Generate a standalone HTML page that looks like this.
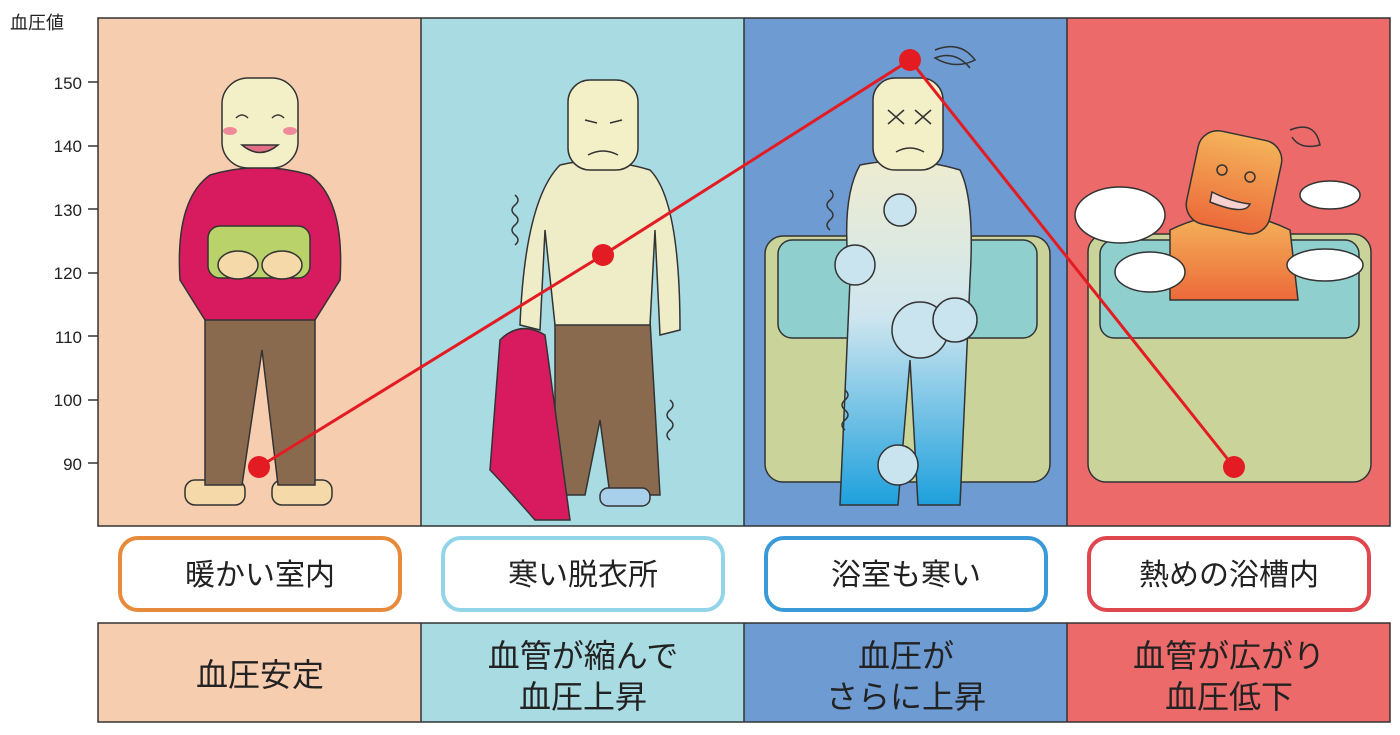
<!DOCTYPE html>
<html><head><meta charset="utf-8"><style>
body{margin:0;background:#fff;width:1400px;height:730px;overflow:hidden;font-family:"Liberation Sans","Noto Sans CJK JP",sans-serif;}
</style></head><body>
<svg width="1400" height="730" xmlns="http://www.w3.org/2000/svg" font-family="Liberation Sans, Noto Sans CJK JP, sans-serif">
<rect x="98" y="18" width="323" height="508" fill="#f7cdb0"/>
<rect x="421" y="18" width="323" height="508" fill="#a9dbe3"/>
<rect x="744" y="18" width="323" height="508" fill="#6d9bd2"/>
<rect x="1067" y="18" width="323" height="508" fill="#ec6a6a"/>
<g stroke="#333" stroke-width="1.5" fill="none">
<rect x="98" y="18" width="1292" height="508"/>
<line x1="421" y1="18" x2="421" y2="526"/><line x1="744" y1="18" x2="744" y2="526"/><line x1="1067" y1="18" x2="1067" y2="526"/>
</g>
<g font-size="17" fill="#222" text-anchor="end">
<text x="82" y="89">150</text><text x="82" y="152">140</text><text x="82" y="216">130</text><text x="82" y="279">120</text><text x="82" y="343">110</text><text x="82" y="406">100</text><text x="82" y="470">90</text>
</g>
<text x="10" y="29" font-size="18" fill="#222">血圧値</text>
<g stroke="#333" stroke-width="1.5">
<line x1="88" y1="82" x2="98" y2="82"/><line x1="88" y1="146" x2="98" y2="146"/><line x1="88" y1="209" x2="98" y2="209"/><line x1="88" y1="273" x2="98" y2="273"/><line x1="88" y1="336" x2="98" y2="336"/><line x1="88" y1="400" x2="98" y2="400"/><line x1="88" y1="463" x2="98" y2="463"/>
</g>
<rect x="765" y="236" width="285" height="246" rx="18" fill="#cad49a" stroke="#333" stroke-width="1.5"/>
<rect x="778" y="240" width="259" height="98" rx="14" fill="#8fd0cf" stroke="#333" stroke-width="1.5"/>
<rect x="1088" y="234" width="283" height="248" rx="18" fill="#cad49a" stroke="#333" stroke-width="1.5"/>
<rect x="1100" y="240" width="259" height="98" rx="14" fill="#8fd0cf" stroke="#333" stroke-width="1.5"/>
<!-- figure 1 -->
<g stroke="#333" stroke-width="1.5">
<rect x="185" y="480" width="60" height="25" rx="10" fill="#f6d9a8"/><rect x="272" y="480" width="60" height="25" rx="10" fill="#f6d9a8"/>
<path d="M205 315 H315 V485 H278 L262 350 L242 485 H205Z" fill="#8a6a4f"/>
<path d="M210 175 Q260 160 310 175 Q345 200 340 280 L315 320 H205 L180 280 Q175 200 210 175Z" fill="#d81b5f"/>
<rect x="208" y="226" width="102" height="52" rx="12" fill="#b9d36a"/>
<ellipse cx="238" cy="265" rx="20" ry="14" fill="#f6d9a8"/><ellipse cx="282" cy="265" rx="20" ry="14" fill="#f6d9a8"/>
<rect x="222" y="78" width="76" height="90" rx="26" fill="#f3efc7"/>
<path d="M242 145 Q260 160 278 145Z" fill="#e36f86"/>
<path d="M236 118 q6 -6 12 0 M272 118 q6 -6 12 0" fill="none"/>
</g>
<ellipse cx="230" cy="131" rx="7" ry="4" fill="#f08a9a"/><ellipse cx="290" cy="131" rx="7" ry="4" fill="#f08a9a"/>
<!-- figure 2 -->
<g stroke="#333" stroke-width="1.5">
<path d="M555 320 H650 L660 495 H610 L600 420 L585 495 H555Z" fill="#8a6a4f"/>
<path d="M560 165 Q600 155 650 170 Q680 200 680 330 L660 335 L655 230 L650 325 H555 L545 230 L540 330 L520 325 Q525 200 560 165Z" fill="#efecc8"/>
<rect x="568" y="80" width="70" height="90" rx="22" fill="#f3efc7"/>
<path d="M585 120 l12 3 M622 120 l-12 3 M588 155 q15 -8 30 0" fill="none"/>
<path d="M500 340 Q520 320 545 335 L570 520 H535 Q500 480 490 470Z" fill="#d81b5f"/>
<rect x="600" y="488" width="50" height="18" rx="8" fill="#a9d0ea"/>
<path d="M515 195 q6 5 0 10 q-6 5 0 10 q6 5 0 10 q-6 5 0 10 q6 5 0 10 M670 400 q6 5 0 10 q-6 5 0 10 q6 5 0 10 q-6 5 0 10" fill="none"/>
</g>
<!-- figure 3 -->
<g stroke="#333" stroke-width="1.5">
<defs><linearGradient id="g3" x1="0" y1="0" x2="0" y2="1"><stop offset="0" stop-color="#eeecd0"/><stop offset="0.45" stop-color="#cfe6ef"/><stop offset="1" stop-color="#1ea0dc"/></linearGradient></defs>
<path d="M860 165 Q910 155 960 170 Q975 200 970 280 L960 505 H918 L910 360 L898 505 H840 L850 280 Q840 200 860 165Z" fill="url(#g3)"/>
<rect x="873" y="78" width="70" height="92" rx="22" fill="#f3efc7"/>
<path d="M888 110 l16 14 M904 110 l-16 14 M915 110 l16 14 M931 110 l-16 14 M896 152 q14 -8 28 0" fill="none"/>
<g fill="#c9e4ef"><circle cx="900" cy="210" r="16"/><circle cx="855" cy="265" r="20"/><circle cx="920" cy="330" r="28"/><circle cx="955" cy="320" r="22"/><circle cx="898" cy="465" r="20"/></g>
<path d="M830 190 q6 5 0 10 q-6 5 0 10 q6 5 0 10 q-6 5 0 10 M845 390 q6 5 0 10 q-6 5 0 10 q6 5 0 10 q-6 5 0 10" fill="none"/>
<path d="M935 50 q25 -10 40 10 q-20 10 -40 -2 q20 -8 35 10" fill="none"/>
</g>
<!-- figure 4 -->
<g stroke="#333" stroke-width="1.5">
<defs><linearGradient id="g4" x1="0" y1="0" x2="0" y2="1"><stop offset="0" stop-color="#f4b35a"/><stop offset="1" stop-color="#ec6a3a"/></linearGradient></defs>
<path d="M1170 230 Q1230 200 1290 230 L1298 300 H1170Z" fill="url(#g4)"/>
<rect x="1192" y="135" width="85" height="95" rx="20" fill="url(#g4)" transform="rotate(12 1235 180)"/>
<circle cx="1222" cy="170" r="5" fill="none"/><circle cx="1250" cy="177" r="5" fill="none"/>
<path d="M1212 192 q20 10 38 12 q-5 12 -40 -2Z" fill="#f7d0d0"/>
<g fill="#fff"><ellipse cx="1120" cy="215" rx="45" ry="28"/><ellipse cx="1150" cy="272" rx="35" ry="20"/><ellipse cx="1325" cy="265" rx="38" ry="16"/><ellipse cx="1330" cy="195" rx="30" ry="14"/></g>
<path d="M1290 130 q25 -10 30 15 q-20 5 -28 -8" fill="none"/>
</g>
<polyline points="259,467 603,255 910,60 1234,467" fill="none" stroke="#e31c24" stroke-width="3"/>
<g fill="#e31c24"><circle cx="259" cy="467" r="11"/><circle cx="603" cy="255" r="11"/><circle cx="910" cy="60" r="11"/><circle cx="1234" cy="467" r="11"/></g>
<g fill="#fff" stroke-width="4">
<rect x="120" y="538" width="280" height="72" rx="18" stroke="#e88a3c"/>
<rect x="443" y="538" width="280" height="72" rx="18" stroke="#92d4e8"/>
<rect x="766" y="538" width="280" height="72" rx="18" stroke="#3a9ad8"/>
<rect x="1089" y="538" width="280" height="72" rx="18" stroke="#e0464e"/>
</g>
<g font-size="30" fill="#222" text-anchor="middle">
<text x="260" y="585">暖かい室内</text><text x="583" y="585">寒い脱衣所</text><text x="906" y="585">浴室も寒い</text><text x="1229" y="585">熱めの浴槽内</text>
</g>
<rect x="98" y="623" width="323" height="99" fill="#f7cdb0"/>
<rect x="421" y="623" width="323" height="99" fill="#a9dbe3"/>
<rect x="744" y="623" width="323" height="99" fill="#6d9bd2"/>
<rect x="1067" y="623" width="323" height="99" fill="#ec6a6a"/>
<g stroke="#333" stroke-width="1.5" fill="none">
<rect x="98" y="623" width="1292" height="99"/>
<line x1="421" y1="623" x2="421" y2="722"/><line x1="744" y1="623" x2="744" y2="722"/><line x1="1067" y1="623" x2="1067" y2="722"/>
</g>
<g font-size="32" fill="#222" text-anchor="middle">
<text x="260" y="686">血圧安定</text>
<text x="583" y="667">血管が縮んで</text><text x="583" y="708">血圧上昇</text>
<text x="906" y="667">血圧が</text><text x="906" y="708">さらに上昇</text>
<text x="1229" y="667">血管が広がり</text><text x="1229" y="708">血圧低下</text>
</g>
</svg>
</body></html>
